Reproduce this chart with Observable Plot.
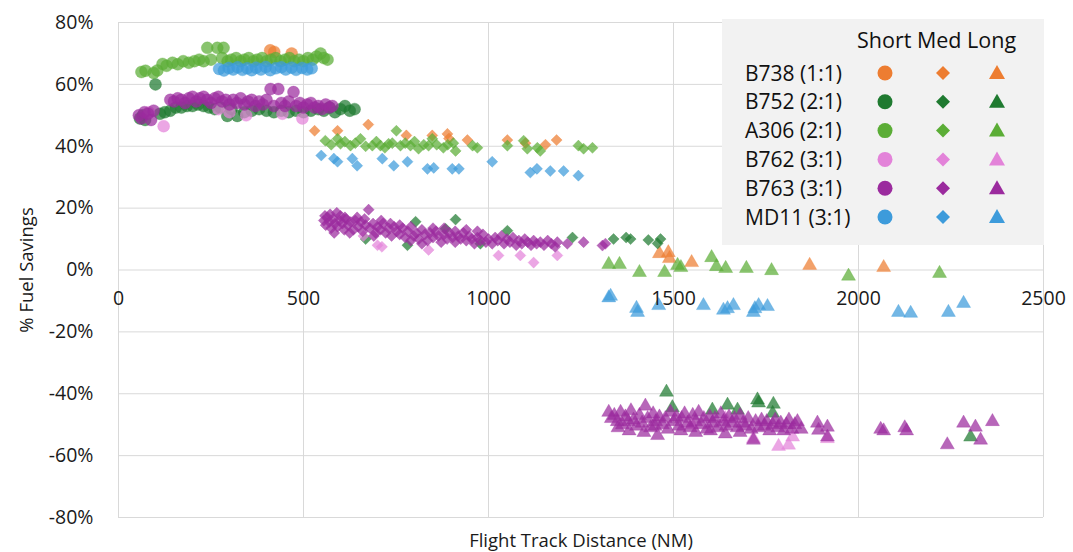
<!DOCTYPE html>
<html><head><meta charset="utf-8">
<script src="https://cdn.jsdelivr.net/npm/d3@7"></script>
<script src="https://cdn.jsdelivr.net/npm/@observablehq/plot@0.6"></script>
<style>
body{margin:0;background:#fff;font-family:"Open Sans",sans-serif;}
#wrap{position:relative;width:1073px;height:552px;}
#legend{position:absolute;left:0;top:0;pointer-events:none;}
</style></head><body><div id="wrap"></div>
<script>
// ---- categories ----
const aircraft = ["B738 (1:1)", "B752 (2:1)", "A306 (2:1)", "B762 (3:1)", "B763 (3:1)", "MD11 (3:1)"];
const colors = ["#ED7D31", "#1F7A30", "#5BAD36", "#E383D9", "#9B2B9E", "#3D9BDB"];
const ranges = ["Short", "Med", "Long"];
const symbols = ["circle", "diamond2", "triangle"];
const xTicks = [0, 500, 1000, 1500, 2000, 2500];
const yTicks = [-80, -60, -40, -20, 0, 20, 40, 60, 80];
const xAxisCrossing = 0;
const xTitle = "Flight Track Distance (NM)";
const yTitle = "% Fuel Savings";
const legendHeader = "Short Med Long";

// ---- series values: [distance NM, % fuel savings] ----
const B738_short = [[410,71],[421,70.5],[468,70]];
const B738_med = [[530,45],[592,45],[675,47],[778,43.5],[848,43.5],[889,44],[893,42.5],[943,42],[1051,42],[1100,41],[1154,40.5],[1184,42]];
const B738_long = [[1462,5.3],[1486,5.6],[1489,3.7],[1549,2.4],[1868,1.5],[2068,0.8]];

const B752_short = [[58,49],[66,50],[72,48.5],[100,60],[112,50.5],[125,51],[140,51.5],[155,52.5],[170,52.5],[185,53],[200,53],[215,53.5],[230,53],[245,52.5],[260,52],[275,52.5],[294,49.8],[305,52],[321,49.8],[340,51],[360,51.5],[380,52],[400,51.5],[420,51],[440,51.5],[460,51],[480,51.5],[500,51],[520,51.5],[540,52],[555,51.5],[570,52.5],[585,51],[600,52],[612,53],[625,51.5],[638,52]];
const B752_med = [[668,10],[781,8],[803,15.6],[884,13.3],[911,16.3],[978,8.5],[1051,12.7],[1227,10.5],[1338,10],[1372,10.5],[1384,10],[1432,9.7],[1457,8.6],[1465,10]];
const B752_long = [[1481,-39.5],[1497,-44.5],[1605,-45.3],[1646,-43.7],[1673,-45.3],[1727,-42],[1730,-43],[1770,-43.4],[1768,-46.3],[2303,-54]];

const A306_short = [[62,64],[73,64.4],[95,63.7],[105,64.5],[119,66.6],[130,66],[146,67],[160,66.5],[175,67.5],[190,67],[205,67.5],[218,68],[230,67.5],[240,71.8],[250,68],[267,71.8],[284,71.8],[280,68.5],[295,67.5],[305,68],[318,68.5],[330,67.5],[340,68],[352,68.5],[365,67.5],[375,68],[388,68.5],[400,67.5],[412,68],[425,68.5],[438,67.5],[450,68],[462,68.5],[475,67.5],[488,68],[500,67.5],[512,68.5],[525,68],[535,69],[546,70],[555,68.5],[565,68]];
const A306_med = [[559,41.8],[575,40.5],[592,42.4],[600,40.8],[612,41.5],[627,40.2],[640,41],[654,42.4],[668,40],[686,40.2],[697,41.5],[708,40.2],[720,39.5],[730,40.8],[740,41],[751,45],[762,40.2],[775,41],[789,40.2],[800,41.5],[811,39.2],[825,40.5],[838,40.2],[848,42.4],[860,40.5],[878,39.5],[890,40.5],[905,41],[911,38.5],[957,40.2],[970,39.5],[1051,40.2],[1095,41.8],[1105,39.2],[1132,39.5],[1140,38.5],[1243,40.2],[1257,39.2],[1281,39.5]];
const A306_long = [[1325,1.8],[1354,1.8],[1408,-0.8],[1476,-0.8],[1511,1.5],[1520,0.8],[1603,4],[1616,1.1],[1641,0.5],[1697,0.5],[1765,-0.2],[1973,-2],[2219,-1.1]];

const B762_short = [[82,51],[122,46.5],[270,52],[300,51],[345,50],[443,50.5],[497,49]];
const B762_med = [[662,11],[700,8],[712,7.5],[838,6.5],[1027,4.7],[1086,4.7],[1122,2.4],[1186,4.7]];
const B762_long = [[1550,-50],[1640,-48],[1716,-54.5],[1784,-57],[1811,-56.6],[1822,-54],[1916,-54.5]];

const B763_short = [[55,50],[62,49],[70,51],[80,50.5],[88,48.5],[95,51.5],[140,55],[150,54.5],[160,55.5],[170,55],[180,54],[190,55.5],[200,56],[210,54.5],[220,55.5],[230,56],[240,55],[250,54],[260,55.5],[270,56],[280,54.5],[290,55],[300,53.5],[310,55],[320,54],[330,55.5],[340,53.5],[350,54.5],[360,55],[370,53],[380,54.5],[390,53.5],[400,55],[411,58.5],[420,53],[432,58.5],[440,54],[450,53],[460,54.5],[473,57.5],[480,53],[490,54],[500,52.5],[510,53.5],[520,54],[530,52.5],[540,53],[550,52],[560,53.5],[570,52.5],[578,53]];
const B763_med = [[555,16],[558,17.5],[560,14.5],[565,17],[570,15.5],[572,18],[575,13.5],[580,16.5],[583,12],[585,15],[590,18.5],[592,14],[598,16],[600,17.5],[605,15],[610,13],[612,17],[615,16.5],[620,14.5],[625,12],[628,15.5],[635,13],[640,16],[645,17],[648,14],[655,15.5],[660,12.5],[665,16.5],[668,14.5],[676,19.5],[680,13.5],[688,15],[690,11],[695,12],[700,14],[708,13],[710,16],[715,15],[722,12],[730,13.5],[735,15],[738,11],[745,14],[752,12.5],[760,11.5],[760,14.5],[768,13.5],[775,10.5],[782,12.5],[790,14],[790,9.5],[798,11],[805,12],[812,10],[820,13],[820,8.5],[828,11.5],[835,9.5],[842,12],[850,10.5],[850,13.5],[858,12.5],[865,11],[872,9],[880,11.5],[880,13.5],[888,10],[895,12],[903,10.5],[910,9],[910,12.5],[918,11],[925,10],[932,12],[940,9.5],[940,13],[948,11],[955,10],[962,8.5],[970,10.5],[970,12.5],[978,9.5],[985,11.5],[993,9],[1000,10],[1010,8.5],[1018,10.5],[1025,9.5],[1035,11],[1042,8.5],[1050,10],[1058,9],[1066,10.5],[1075,8],[1082,9.5],[1090,8.5],[1098,10],[1106,9],[1115,8],[1122,9.5],[1130,8.5],[1140,9],[1150,8],[1160,9.5],[1170,8.5],[1180,7.5],[1186,9],[1213,8.5],[1257,9],[1308,7.9],[1316,8.5]];
const B763_long = [[1325,-46],[1332,-48],[1340,-47],[1348,-49],[1350,-51],[1357,-46],[1362,-50],[1370,-47.5],[1378,-49],[1380,-52],[1385,-45.5],[1392,-48.5],[1400,-50.5],[1408,-47],[1415,-49.5],[1420,-52.5],[1424,-44],[1430,-48],[1438,-51],[1445,-46.5],[1450,-50.5],[1452,-49],[1457,-53.5],[1462,-47.5],[1470,-50],[1478,-48],[1485,-51.5],[1492,-46],[1500,-49],[1508,-47.5],[1515,-50.5],[1520,-52],[1522,-48],[1530,-46.5],[1538,-49.5],[1545,-51],[1552,-47],[1560,-49],[1560,-52.5],[1568,-46],[1575,-50],[1582,-48],[1590,-51.5],[1598,-47.5],[1600,-52],[1605,-49.5],[1612,-48],[1620,-51],[1628,-46.5],[1635,-49],[1640,-53],[1642,-50.5],[1650,-47.5],[1658,-49.5],[1665,-48],[1672,-51],[1680,-47],[1680,-52.5],[1688,-49.5],[1695,-50.5],[1702,-48],[1710,-51.5],[1716,-55],[1722,-49],[1730,-51],[1738,-48.5],[1745,-50.5],[1752,-49],[1760,-52],[1768,-50],[1775,-48.5],[1782,-51],[1790,-49.5],[1798,-52],[1805,-50],[1812,-48.5],[1820,-51.5],[1828,-50],[1835,-49],[1845,-51.5],[1889,-49.5],[1892,-51.8],[1916,-50.8],[1916,-54],[2060,-51.5],[2068,-52],[2125,-51],[2130,-52],[2240,-56.5],[2284,-49.5],[2316,-50.8],[2330,-55],[2362,-49]];

const MD11_short = [[272,65],[285,64.5],[298,65.3],[310,64.8],[322,65.5],[335,64.7],[348,65.2],[360,64.6],[372,65.4],[385,64.8],[398,65.6],[410,64.6],[425,65.2],[440,65.5],[452,64.8],[468,65.4],[480,64.7],[496,65.3],[510,64.8],[522,65.2]];
const MD11_med = [[548,37],[582,36],[592,35],[632,36],[645,33.7],[713,36],[744,33.7],[781,35],[835,32.7],[852,33],[902,32.7],[920,32.7],[1010,35],[1113,31.5],[1131,32.7],[1167,32],[1203,32],[1243,30.5]];
const MD11_long = [[1325,-9],[1330,-8.5],[1400,-12.4],[1403,-13.7],[1460,-11.5],[1581,-11.5],[1635,-13],[1646,-12.5],[1662,-11.5],[1716,-13.7],[1720,-12.5],[1730,-11.5],[1754,-11.8],[2108,-13.7],[2141,-14],[2243,-13.7],[2284,-10.8]];

const seriesByAircraft = [
  [B738_short, B738_med, B738_long],
  [B752_short, B752_med, B752_long],
  [A306_short, A306_med, A306_long],
  [B762_short, B762_med, B762_long],
  [B763_short, B763_med, B763_long],
  [MD11_short, MD11_med, MD11_long]
];

// ---- build table ----
const rows = [];
seriesByAircraft.forEach((sets, ai) => {
  sets.forEach((pts, ri) => {
    pts.forEach(([x, y]) => rows.push({x, y, aircraft: aircraft[ai], range: ranges[ri]}));
  });
});

const sizeFor = {Short: 6, Med: 5, Long: 5.2};
const font = '"Open Sans", sans-serif';
const textColor = "#1a1a1a";

const chart = Plot.plot({
  width: 1073,
  height: 552,
  marginLeft: 118,
  marginRight: 30,
  marginTop: 22,
  marginBottom: 35,
  x: {domain: [0, 2500], axis: null},
  y: {domain: [-80, 80], axis: null},
  r: {type: "identity"},
  color: {domain: aircraft, range: colors},
  style: {fontFamily: font, background: "#fff"},
  marks: [
    Plot.gridX(xTicks, {stroke: "#d9d9d9", strokeOpacity: 1, strokeWidth: 1}),
    Plot.gridY(yTicks, {stroke: "#d9d9d9", strokeOpacity: 1, strokeWidth: 1}),
    Plot.dot(rows, {
      x: "x", y: "y", fill: "aircraft",
      symbol: d => symbols[ranges.indexOf(d.range)],
      r: d => sizeFor[d.range],
      fillOpacity: 0.72,
      stroke: "aircraft", strokeOpacity: 0.3, strokeWidth: 1
    }),
    Plot.text(yTicks, {y: d => d, frameAnchor: "left", dx: -25, textAnchor: "end", text: d => d + "%", fontSize: 19.5, fill: textColor}),
    Plot.text(xTicks, {x: d => d, y: xAxisCrossing, dy: 29, text: d => String(d), fontSize: 19.5, fill: textColor}),
    Plot.text([xTitle], {frameAnchor: "bottom", dy: 29, text: d => d, fontSize: 18.5, fill: textColor}),
    Plot.text([yTitle], {frameAnchor: "left", dx: -91, textAnchor: "middle", rotate: -90, text: d => d, fontSize: 18.5, fill: textColor})
  ]
});
const wrap = document.getElementById("wrap");
wrap.appendChild(chart);

// ---- legend (overlay) ----
const NS = "http://www.w3.org/2000/svg";
const lg = document.createElementNS(NS, "svg");
lg.setAttribute("id", "legend");
lg.setAttribute("width", 1073);
lg.setAttribute("height", 552);
function el(tag, attrs, txt) {
  const e = document.createElementNS(NS, tag);
  for (const k in attrs) e.setAttribute(k, attrs[k]);
  if (txt != null) e.textContent = txt;
  lg.appendChild(e);
  return e;
}
el("rect", {x: 722, y: 19, width: 322, height: 226, fill: "#f2f2f2"});
const symX = [885, 943, 997];
el("text", {x: 857, y: 48, "font-size": 21.5, "font-family": font, fill: "#111"}, legendHeader);
aircraft.forEach((a, i) => {
  const cy = 73 + i * 28.8;
  el("text", {x: 745, y: cy + 7.5, "font-size": 21, "font-family": font, fill: "#111"}, a);
  const c = colors[i];
  el("circle", {cx: symX[0], cy, r: 7.5, fill: c});
  el("path", {d: `M${symX[1]},${cy - 7}L${symX[1] + 7},${cy}L${symX[1]},${cy + 7}L${symX[1] - 7},${cy}Z`, fill: c});
  el("path", {d: `M${symX[2]},${cy - 8}L${symX[2] + 8},${cy + 6}L${symX[2] - 8},${cy + 6}Z`, fill: c});
});
wrap.appendChild(lg);
</script></body></html>
